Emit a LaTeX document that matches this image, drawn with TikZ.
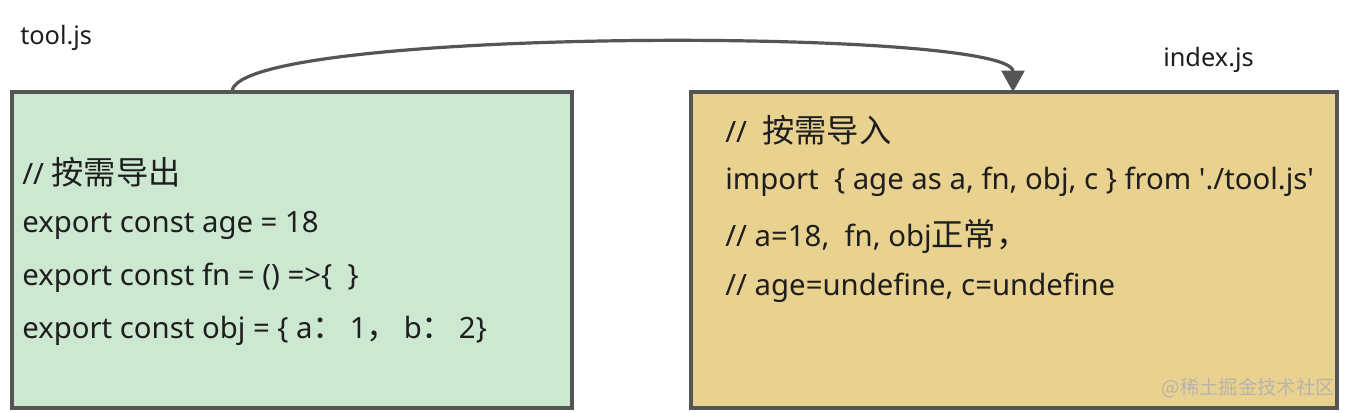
\documentclass[tikz,border=0pt]{standalone}
\usepackage{fontspec}
\setmainfont{Noto Sans}[Ligatures=TeXOff]
\newfontfamily\cjk{Noto Sans CJK SC}[Scale=1.1]
\newfontfamily\cjkwm{Noto Sans CJK SC}
\usetikzlibrary{arrows.meta}
\definecolor{boxgreen}{RGB}{205,232,208}
\definecolor{boxyellow}{RGB}{233,210,143}
\definecolor{edgegray}{RGB}{85,85,85}
\definecolor{txt}{RGB}{30,30,30}
\definecolor{wmgray}{RGB}{185,180,170}
\begin{document}
\begin{tikzpicture}[x=0.75pt,y=-0.75pt,
  filebox/.style={draw=edgegray,line width=2.3pt},
  codeline/.style={anchor=west,inner sep=0pt,text=txt,font=\fontsize{22}{25}\selectfont},
  fname/.style={anchor=west,inner sep=0pt,text=txt,font=\fontsize{19}{22}\selectfont},
  link/.style={draw=edgegray,line width=2.4pt,-{Triangle[length=16pt,width=17pt]}}]
\useasboundingbox (0,0) rectangle (1347,412);
\fill[white] (0,0) rectangle (1347,412);
% boxes
\path[filebox,fill=boxgreen] (12,92) rectangle (572,408);
\path[filebox,fill=boxyellow] (691,92) rectangle (1337,408);
\coordinate (gtop) at (232,92);
\coordinate (ytop) at (1013,92);
% labels
\node[fname] (toollbl) at (20,38) {tool.js};
\node[fname] (indexlbl) at (1163,60) {index.js};
% green text
\node[codeline] (g1) at (22,172) {// {\cjk 按需导出}};
\node[codeline] (g2) at (22,225) {export const age = 18};
\node[codeline] (g3) at (22,278) {export const fn = () =>\{\ \ \}};
\node[codeline] (g4) at (22,331) {export const obj = \{ a{\cjk ：}\,1{\cjk ，}\,b{\cjk ：}\,2\}};
% yellow text
\node[codeline] (y1) at (725,130) {//\ \ {\cjk 按需导入}};
\node[codeline] (y2) at (725,182) {import\ \ \{ age as a, fn, obj, c \} from './tool.js'};
\node[codeline] (y3) at (725,236) {// a=18,\ \ fn, obj{\cjk 正常}{\cjk ，}};
\node[codeline] (y4) at (725,288) {// age=undefine, c=undefine};
% watermark
\node[anchor=east,inner sep=0pt,text=wmgray,font=\cjkwm\fontsize{14.5}{16}\selectfont] (wm) at (1335,388) {@稀土掘金技术社区};
% connector
\draw[link] (gtop) .. controls (232,27) and (1013,27) .. (ytop);
\end{tikzpicture}
\end{document}
